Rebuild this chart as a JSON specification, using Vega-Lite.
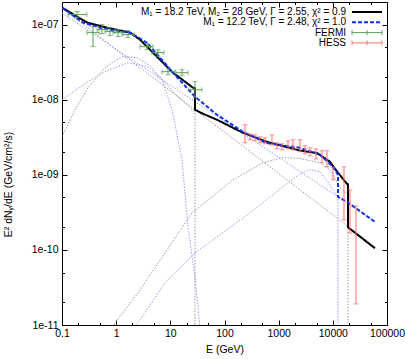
{
  "$schema": "https://vega.github.io/schema/vega-lite/v6.json",
  "width": 325,
  "height": 323,
  "autosize": {"type": "none"},
  "padding": {"left": 62, "top": 2, "right": 20, "bottom": 34},
  "background": "white",
  "config": {
    "view": {"stroke": "black", "strokeWidth": 1},
    "font": "Liberation Sans",
    "axis": {"grid": false, "domain": false, "labelFont": "Liberation Sans", "labelFontSize": 10.5, "labelColor": "black", "titleFont": "Liberation Sans", "titleFontSize": 10.5, "titleFontWeight": "normal", "titleColor": "black", "tickColor": "black", "tickWidth": 1, "labelOverlap": false, "labelFlush": false, "labelBound": false}
  },
  "datasets": {
    "gcomp": [
      {"seg": "pl", "i": 0, "E": 0.1, "F": 1.648e-7},
      {"seg": "pl", "i": 1, "E": 60000, "F": 1.094e-10},
      {"seg": "lo", "i": 0, "E": 0.1, "F": 3.21e-9},
      {"seg": "lo", "i": 1, "E": 0.174, "F": 7.36e-9},
      {"seg": "lo", "i": 2, "E": 0.302, "F": 1.445e-8},
      {"seg": "lo", "i": 3, "E": 0.622, "F": 2.67e-8},
      {"seg": "lo", "i": 4, "E": 1.282, "F": 3.74e-8},
      {"seg": "lo", "i": 5, "E": 2.427, "F": 3.63e-8},
      {"seg": "lo", "i": 6, "E": 4.217, "F": 2.84e-8},
      {"seg": "lo", "i": 7, "E": 7.015, "F": 1.85e-8},
      {"seg": "lo", "i": 8, "E": 12.19, "F": 1.2e-8},
      {"seg": "lo", "i": 9, "E": 26.18, "F": 7.13e-9},
      {"seg": "lo", "i": 10, "E": 28.5, "F": 6.9e-9},
      {"seg": "lo", "i": 11, "E": 28.5, "F": 9e-12},
      {"seg": "hi", "i": 0, "E": 0.838, "F": 9.4e-12},
      {"seg": "hi", "i": 1, "E": 2.53, "F": 2.67e-11},
      {"seg": "hi", "i": 2, "E": 7.96, "F": 9.12e-11},
      {"seg": "hi", "i": 3, "E": 25.1, "F": 3.11e-10},
      {"seg": "hi", "i": 4, "E": 143.5, "F": 8.57e-10},
      {"seg": "hi", "i": 5, "E": 514, "F": 1.445e-9},
      {"seg": "hi", "i": 6, "E": 1202, "F": 1.7e-9},
      {"seg": "hi", "i": 7, "E": 2472, "F": 1.65e-9},
      {"seg": "hi", "i": 8, "E": 5794, "F": 1.45e-9},
      {"seg": "hi", "i": 9, "E": 8851, "F": 1.167e-9},
      {"seg": "hi", "i": 10, "E": 13550, "F": 6.71e-10},
      {"seg": "hi", "i": 11, "E": 18240, "F": 5.58e-10},
      {"seg": "hi", "i": 12, "E": 19050, "F": 5.58e-10},
      {"seg": "hi", "i": 13, "E": 19050, "F": 9e-12}
    ],
    "bcomp": [
      {"seg": "pl", "i": 0, "E": 0.1, "F": 1.422e-7},
      {"seg": "pl", "i": 1, "E": 60000, "F": 2.4e-10},
      {"seg": "lo", "i": 0, "E": 0.1, "F": 1.0e-8},
      {"seg": "lo", "i": 1, "E": 0.302, "F": 1.74e-8},
      {"seg": "lo", "i": 2, "E": 0.622, "F": 2.36e-8},
      {"seg": "lo", "i": 3, "E": 1.652, "F": 3.11e-8},
      {"seg": "lo", "i": 4, "E": 3.873, "F": 2.75e-8},
      {"seg": "lo", "i": 5, "E": 7.015, "F": 1.85e-8},
      {"seg": "lo", "i": 6, "E": 10.74, "F": 7.36e-9},
      {"seg": "lo", "i": 7, "E": 16.41, "F": 1.585e-9},
      {"seg": "lo", "i": 8, "E": 21.18, "F": 2.03e-10},
      {"seg": "lo", "i": 9, "E": 28.5, "F": 4.37e-11},
      {"seg": "lo", "i": 10, "E": 35.3, "F": 9.33e-12},
      {"seg": "hi", "i": 0, "E": 2.23, "F": 9.4e-12},
      {"seg": "hi", "i": 1, "E": 7.96, "F": 3.63e-11},
      {"seg": "hi", "i": 2, "E": 28.5, "F": 9.12e-11},
      {"seg": "hi", "i": 3, "E": 295, "F": 3.11e-10},
      {"seg": "hi", "i": 4, "E": 1202, "F": 6.92e-10},
      {"seg": "hi", "i": 5, "E": 2472, "F": 1.03e-9},
      {"seg": "hi", "i": 6, "E": 3784, "F": 1.167e-9},
      {"seg": "hi", "i": 7, "E": 5794, "F": 1.096e-9},
      {"seg": "hi", "i": 8, "E": 8851, "F": 7.36e-10},
      {"seg": "hi", "i": 9, "E": 11940, "F": 5.25e-10},
      {"seg": "hi", "i": 10, "E": 12450, "F": 5.25e-10},
      {"seg": "hi", "i": 11, "E": 12450, "F": 9e-12}
    ],
    "totals": [
      {"series": "M₁ = 18.2 TeV, M₂ = 28 GeV, Γ = 2.55, χ² = 0.9", "i": 0, "E": 0.1, "F": 1.687e-7},
      {"series": "M₁ = 18.2 TeV, M₂ = 28 GeV, Γ = 2.55, χ² = 0.9", "i": 1, "E": 0.29, "F": 1.064e-7},
      {"series": "M₁ = 18.2 TeV, M₂ = 28 GeV, Γ = 2.55, χ² = 0.9", "i": 2, "E": 0.678, "F": 9.12e-8},
      {"series": "M₁ = 18.2 TeV, M₂ = 28 GeV, Γ = 2.55, χ² = 0.9", "i": 3, "E": 1.8, "F": 7.82e-8},
      {"series": "M₁ = 18.2 TeV, M₂ = 28 GeV, Γ = 2.55, χ² = 0.9", "i": 4, "E": 2.754, "F": 6.31e-8},
      {"series": "M₁ = 18.2 TeV, M₂ = 28 GeV, Γ = 2.55, χ² = 0.9", "i": 5, "E": 6.44, "F": 3.41e-8},
      {"series": "M₁ = 18.2 TeV, M₂ = 28 GeV, Γ = 2.55, χ² = 0.9", "i": 6, "E": 11.2, "F": 2.29e-8},
      {"series": "M₁ = 18.2 TeV, M₂ = 28 GeV, Γ = 2.55, χ² = 0.9", "i": 7, "E": 26.2, "F": 1.445e-8},
      {"series": "M₁ = 18.2 TeV, M₂ = 28 GeV, Γ = 2.55, χ² = 0.9", "i": 8, "E": 28.5, "F": 1.42e-8},
      {"series": "M₁ = 18.2 TeV, M₂ = 28 GeV, Γ = 2.55, χ² = 0.9", "i": 9, "E": 28.5, "F": 7.36e-9},
      {"series": "M₁ = 18.2 TeV, M₂ = 28 GeV, Γ = 2.55, χ² = 0.9", "i": 10, "E": 40, "F": 6.5e-9},
      {"series": "M₁ = 18.2 TeV, M₂ = 28 GeV, Γ = 2.55, χ² = 0.9", "i": 11, "E": 72.6, "F": 5.41e-9},
      {"series": "M₁ = 18.2 TeV, M₂ = 28 GeV, Γ = 2.55, χ² = 0.9", "i": 12, "E": 219, "F": 3.63e-9},
      {"series": "M₁ = 18.2 TeV, M₂ = 28 GeV, Γ = 2.55, χ² = 0.9", "i": 13, "E": 608, "F": 2.75e-9},
      {"series": "M₁ = 18.2 TeV, M₂ = 28 GeV, Γ = 2.55, χ² = 0.9", "i": 14, "E": 2472, "F": 2.1e-9},
      {"series": "M₁ = 18.2 TeV, M₂ = 28 GeV, Γ = 2.55, χ² = 0.9", "i": 15, "E": 5093, "F": 1.95e-9},
      {"series": "M₁ = 18.2 TeV, M₂ = 28 GeV, Γ = 2.55, χ² = 0.9", "i": 16, "E": 8851, "F": 1.49e-9},
      {"series": "M₁ = 18.2 TeV, M₂ = 28 GeV, Γ = 2.55, χ² = 0.9", "i": 17, "E": 12450, "F": 1.064e-9},
      {"series": "M₁ = 18.2 TeV, M₂ = 28 GeV, Γ = 2.55, χ² = 0.9", "i": 18, "E": 18240, "F": 7.59e-10},
      {"series": "M₁ = 18.2 TeV, M₂ = 28 GeV, Γ = 2.55, χ² = 0.9", "i": 19, "E": 19050, "F": 7.5e-10},
      {"series": "M₁ = 18.2 TeV, M₂ = 28 GeV, Γ = 2.55, χ² = 0.9", "i": 20, "E": 19050, "F": 2.0e-10},
      {"series": "M₁ = 18.2 TeV, M₂ = 28 GeV, Γ = 2.55, χ² = 0.9", "i": 21, "E": 60000, "F": 1.05e-10},
      {"series": "M₁ = 12.2 TeV, Γ = 2.48, χ² = 1.0", "i": 0, "E": 0.1, "F": 1.687e-7},
      {"series": "M₁ = 12.2 TeV, Γ = 2.48, χ² = 1.0", "i": 1, "E": 0.244, "F": 1.064e-7},
      {"series": "M₁ = 12.2 TeV, Γ = 2.48, χ² = 1.0", "i": 2, "E": 0.571, "F": 8.85e-8},
      {"series": "M₁ = 12.2 TeV, Γ = 2.48, χ² = 1.0", "i": 3, "E": 1.8, "F": 7.82e-8},
      {"series": "M₁ = 12.2 TeV, Γ = 2.48, χ² = 1.0", "i": 4, "E": 3.707, "F": 5.75e-8},
      {"series": "M₁ = 12.2 TeV, Γ = 2.48, χ² = 1.0", "i": 5, "E": 6.44, "F": 3.63e-8},
      {"series": "M₁ = 12.2 TeV, Γ = 2.48, χ² = 1.0", "i": 6, "E": 11.2, "F": 2.29e-8},
      {"series": "M₁ = 12.2 TeV, Γ = 2.48, χ² = 1.0", "i": 7, "E": 28.5, "F": 1.096e-8},
      {"series": "M₁ = 12.2 TeV, Γ = 2.48, χ² = 1.0", "i": 8, "E": 72.6, "F": 6.31e-9},
      {"series": "M₁ = 12.2 TeV, Γ = 2.48, χ² = 1.0", "i": 9, "E": 219, "F": 3.74e-9},
      {"series": "M₁ = 12.2 TeV, Γ = 2.48, χ² = 1.0", "i": 10, "E": 608, "F": 2.64e-9},
      {"series": "M₁ = 12.2 TeV, Γ = 2.48, χ² = 1.0", "i": 11, "E": 2472, "F": 2.29e-9},
      {"series": "M₁ = 12.2 TeV, Γ = 2.48, χ² = 1.0", "i": 12, "E": 5794, "F": 1.85e-9},
      {"series": "M₁ = 12.2 TeV, Γ = 2.48, χ² = 1.0", "i": 13, "E": 10070, "F": 1.28e-9},
      {"series": "M₁ = 12.2 TeV, Γ = 2.48, χ² = 1.0", "i": 14, "E": 12450, "F": 1.0e-9},
      {"series": "M₁ = 12.2 TeV, Γ = 2.48, χ² = 1.0", "i": 15, "E": 12450, "F": 5.09e-10},
      {"series": "M₁ = 12.2 TeV, Γ = 2.48, χ² = 1.0", "i": 16, "E": 18240, "F": 4.37e-10},
      {"series": "M₁ = 12.2 TeV, Γ = 2.48, χ² = 1.0", "i": 17, "E": 60000, "F": 2.36e-10}
    ],
    "fermi": [
      {"series": "FERMI", "E": 0.189, "Elo": 0.129, "Ehi": 0.289, "F": 1.36e-7, "Flo": 1.24e-7, "Fhi": 1.49e-7},
      {"series": "FERMI", "E": 0.373, "Elo": 0.289, "Ehi": 0.482, "F": 7.82e-8, "Flo": 5.09e-8, "Fhi": 9.4e-8},
      {"series": "FERMI", "E": 0.547, "Elo": 0.443, "Ehi": 0.677, "F": 8.58e-8, "Flo": 7.59e-8, "Fhi": 1.0e-7},
      {"series": "FERMI", "E": 0.769, "Elo": 0.622, "Ehi": 0.951, "F": 8.07e-8, "Flo": 7.14e-8, "Fhi": 9.12e-8},
      {"series": "FERMI", "E": 1.081, "Elo": 0.874, "Ehi": 1.337, "F": 7.82e-8, "Flo": 6.92e-8, "Fhi": 8.58e-8},
      {"series": "FERMI", "E": 1.654, "Elo": 1.281, "Ehi": 2.134, "F": 7.36e-8, "Flo": 6.71e-8, "Fhi": 8.32e-8},
      {"series": "FERMI", "E": 3.708, "Elo": 2.754, "Ehi": 4.786, "F": 5.09e-8, "Flo": 4.64e-8, "Fhi": 5.58e-8},
      {"series": "FERMI", "E": 5.918, "Elo": 4.586, "Ehi": 7.64, "F": 4.23e-8, "Flo": 3.74e-8, "Fhi": 4.64e-8},
      {"series": "FERMI", "E": 9.06, "Elo": 7.015, "Ehi": 12.2, "F": 2.36e-8, "Flo": 2.15e-8, "Fhi": 2.59e-8},
      {"series": "FERMI", "E": 16.42, "Elo": 12.72, "Ehi": 21.2, "F": 2.29e-8, "Flo": 2.09e-8, "Fhi": 2.51e-8},
      {"series": "FERMI", "E": 28.5, "Elo": 22.1, "Ehi": 38.4, "F": 1.36e-8, "Flo": 1.06e-8, "Fhi": 1.74e-8}
    ],
    "hess": [
      {"series": "HESS", "E": 239, "F": 3.52e-9, "Flo": 2.67e-9, "Fhi": 4.64e-9},
      {"series": "HESS", "E": 295.5, "F": 3.21e-9, "Flo": 2.93e-9, "Fhi": 3.52e-9},
      {"series": "HESS", "E": 365.6, "F": 3.11e-9, "Flo": 2.84e-9, "Fhi": 3.41e-9},
      {"series": "HESS", "E": 452, "F": 2.93e-9, "Flo": 2.67e-9, "Fhi": 3.21e-9},
      {"series": "HESS", "E": 559, "F": 2.84e-9, "Flo": 2.59e-9, "Fhi": 3.11e-9},
      {"series": "HESS", "E": 753, "F": 2.93e-9, "Flo": 2.51e-9, "Fhi": 3.41e-9},
      {"series": "HESS", "E": 931, "F": 2.44e-9, "Flo": 2.22e-9, "Fhi": 2.67e-9},
      {"series": "HESS", "E": 1151, "F": 2.36e-9, "Flo": 2.15e-9, "Fhi": 2.59e-9},
      {"series": "HESS", "E": 1486, "F": 2.51e-9, "Flo": 2.22e-9, "Fhi": 2.84e-9},
      {"series": "HESS", "E": 1837, "F": 2.51e-9, "Flo": 2.15e-9, "Fhi": 2.93e-9},
      {"series": "HESS", "E": 2475, "F": 2.44e-9, "Flo": 2.03e-9, "Fhi": 2.93e-9},
      {"series": "HESS", "E": 3062, "F": 2.15e-9, "Flo": 1.91e-9, "Fhi": 2.44e-9},
      {"series": "HESS", "E": 3785, "F": 2.03e-9, "Flo": 1.79e-9, "Fhi": 2.29e-9},
      {"series": "HESS", "E": 4887, "F": 1.91e-9, "Flo": 1.63e-9, "Fhi": 2.22e-9},
      {"series": "HESS", "E": 6305, "F": 1.74e-9, "Flo": 1.45e-9, "Fhi": 2.09e-9},
      {"series": "HESS", "E": 7798, "F": 1.63e-9, "Flo": 1.28e-9, "Fhi": 2.09e-9},
      {"series": "HESS", "E": 10060, "F": 1.03e-9, "Flo": 8.58e-10, "Fhi": 1.24e-9},
      {"series": "HESS", "E": 16060, "F": 6.31e-10, "Flo": 2.51e-10, "Fhi": 1.28e-9},
      {"series": "HESS", "E": 20730, "F": 3.63e-10, "Flo": 1.68e-10, "Fhi": 6.31e-10},
      {"series": "HESS", "E": 26750, "F": 1.58e-10, "Flo": 1.91e-11, "Fhi": 3.86e-10}
    ]
  },
  "layer": [
    {
      "data": {"name": "gcomp"},
      "mark": {"type": "line", "color": "#808080", "strokeWidth": 0.8, "strokeDash": [1.5, 1.5], "clip": true},
      "encoding": {
        "x": {"field": "E", "type": "quantitative", "scale": {"type": "log", "domain": [0.1, 100000], "nice": false},
          "axis": {"orient": "bottom", "title": "E (GeV)", "values": [0.1, 0.2, 0.5, 1, 2, 5, 10, 20, 50, 100, 200, 500, 1000, 2000, 5000, 10000, 20000, 50000, 100000],
            "labelExpr": "abs(log(datum.value)/LN10 - round(log(datum.value)/LN10)) < 0.01 ? format(datum.value, '~g') : ''",
            "tickSize": {"condition": {"test": "abs(log(datum.value)/LN10 - round(log(datum.value)/LN10)) < 0.01", "value": -5}, "value": -2.5},
            "labelPadding": 8, "titlePadding": 3}},
        "y": {"field": "F", "type": "quantitative", "scale": {"type": "log", "domain": [1e-11, 2e-7], "nice": false},
          "axis": {"orient": "left", "title": "E² dNᵧ/dE (GeV/cm²/s)", "values": [1e-11, 2e-11, 5e-11, 1e-10, 2e-10, 5e-10, 1e-9, 2e-9, 5e-9, 1e-8, 2e-8, 5e-8, 1e-7],
            "labelExpr": "abs(log(datum.value)/LN10 - round(log(datum.value)/LN10)) < 0.01 ? '1e-' + (round(-log(datum.value)/LN10) < 10 ? '0' : '') + round(-log(datum.value)/LN10) : ''",
            "tickSize": {"condition": {"test": "abs(log(datum.value)/LN10 - round(log(datum.value)/LN10)) < 0.01", "value": -5}, "value": -2.5},
            "labelPadding": 9, "titleX": -49, "titleY": 182}},
        "detail": {"field": "seg"},
        "order": {"field": "i"}
      }
    },
    {
      "data": {"name": "bcomp"},
      "mark": {"type": "line", "color": "#7f7fff", "strokeWidth": 0.8, "strokeDash": [1.5, 1.5], "clip": true},
      "encoding": {
        "x": {"field": "E", "type": "quantitative",
          "axis": {"orient": "top", "title": null, "labels": false, "values": [0.1, 0.2, 0.5, 1, 2, 5, 10, 20, 50, 100, 200, 500, 1000, 2000, 5000, 10000, 20000, 50000, 100000],
            "tickSize": {"condition": {"test": "abs(log(datum.value)/LN10 - round(log(datum.value)/LN10)) < 0.01", "value": -5}, "value": -2.5}}},
        "y": {"field": "F", "type": "quantitative",
          "axis": {"orient": "right", "title": null, "labels": false, "values": [1e-11, 2e-11, 5e-11, 1e-10, 2e-10, 5e-10, 1e-9, 2e-9, 5e-9, 1e-8, 2e-8, 5e-8, 1e-7],
            "tickSize": {"condition": {"test": "abs(log(datum.value)/LN10 - round(log(datum.value)/LN10)) < 0.01", "value": -5}, "value": -2.5}}},
        "detail": {"field": "seg"},
        "order": {"field": "i"}
      }
    },
    {
      "data": {"name": "totals"},
      "mark": {"type": "line", "strokeWidth": 2, "clip": true},
      "encoding": {
        "x": {"field": "E", "type": "quantitative", "axis": null},
        "y": {"field": "F", "type": "quantitative", "axis": null},
        "order": {"field": "i"},
        "strokeDash": {"field": "series", "type": "nominal", "scale": {"domain": ["M₁ = 18.2 TeV, M₂ = 28 GeV, Γ = 2.55, χ² = 0.9", "M₁ = 12.2 TeV, Γ = 2.48, χ² = 1.0"], "range": [[1, 0], [4, 2]]}, "legend": null},
        "color": {"field": "series", "type": "nominal",
          "scale": {"domain": ["M₁ = 18.2 TeV, M₂ = 28 GeV, Γ = 2.55, χ² = 0.9", "M₁ = 12.2 TeV, Γ = 2.48, χ² = 1.0", "FERMI", "HESS"], "range": ["#000000", "#1030f0", "#5a9e5a", "#ff6b6b"]},
          "legend": {"title": null, "orient": "none", "legendX": 300, "legendY": 5, "labelAlign": "right", "labelOffset": -26, "labelFont": "Liberation Sans", "labelFontSize": 10, "labelColor": "black", "labelLimit": 400, "symbolSize": 100, "rowPadding": 0.3, "padding": 0,
            "encode": {"symbols": {"update": {
              "shape": {"signal": "datum.value == 'FERMI' || datum.value == 'HESS' ? 'M-3,0H3M-3,-0.5V0.5M3,-0.5V0.5M0,-0.5V0.5' : 'M-3,0H3'"},
              "strokeDash": {"signal": "indexof(datum.value, '12.2') >= 0 ? [4, 2] : [1, 0]"},
              "strokeWidth": {"signal": "datum.value == 'FERMI' || datum.value == 'HESS' ? 1 : 2"},
              "fill": {"value": "transparent"}
            }}}}
        }
      }
    },
    {
      "data": {"name": "fermi"},
      "mark": {"type": "errorbar", "ticks": {"size": 5}, "thickness": 1, "clip": true},
      "encoding": {
        "x": {"field": "Elo", "type": "quantitative", "axis": null},
        "x2": {"field": "Ehi"},
        "y": {"field": "F", "type": "quantitative", "axis": null},
        "color": {"field": "series", "type": "nominal"}
      }
    },
    {
      "data": {"name": "fermi"},
      "mark": {"type": "errorbar", "ticks": {"size": 5}, "thickness": 1, "clip": true},
      "encoding": {
        "x": {"field": "E", "type": "quantitative", "axis": null},
        "y": {"field": "Flo", "type": "quantitative", "axis": null},
        "y2": {"field": "Fhi"},
        "color": {"field": "series", "type": "nominal"}
      }
    },
    {
      "data": {"name": "hess"},
      "mark": {"type": "errorbar", "ticks": {"size": 5}, "thickness": 1, "clip": true},
      "encoding": {
        "x": {"field": "E", "type": "quantitative", "axis": null},
        "y": {"field": "Flo", "type": "quantitative", "axis": null},
        "y2": {"field": "Fhi"},
        "color": {"field": "series", "type": "nominal"}
      }
    }
  ],
  "resolve": {"axis": {"x": "independent", "y": "independent"}}
}
